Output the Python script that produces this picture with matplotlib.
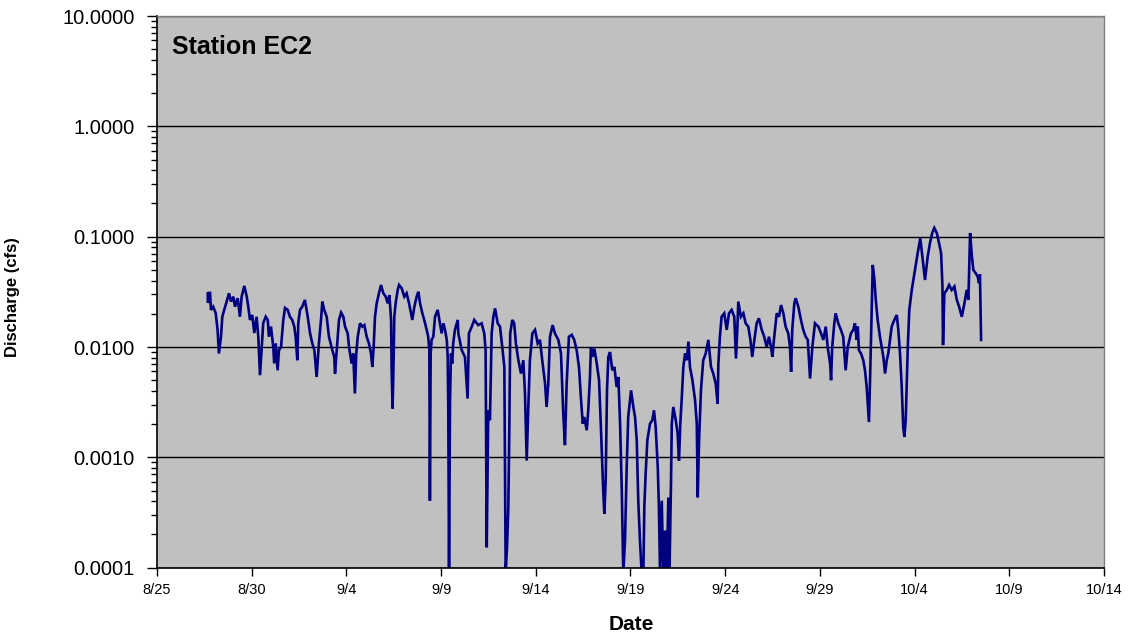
import matplotlib
matplotlib.use('Agg')
from matplotlib import pyplot as plt
from matplotlib.ticker import LogLocator, FormatStrFormatter, NullFormatter
import numpy as np

plt.rcParams['font.family'] = ['Liberation Sans', 'DejaVu Sans']

# time in days after 8/25 (00:00), discharge in cfs
days = [
	2.68, 2.69, 2.80, 2.85, 2.97, 3.10, 3.20, 3.27, 3.38, 3.45,
	3.55, 3.68, 3.80, 3.91, 4.03, 4.12, 4.26, 4.38, 4.47, 4.61,
	4.74, 4.82, 4.91, 5.03, 5.14, 5.26, 5.35, 5.44, 5.53, 5.61,
	5.74, 5.85, 5.91, 6.02, 6.14, 6.19, 6.27, 6.37, 6.44, 6.55,
	6.67, 6.76, 6.90, 7.02, 7.14, 7.25, 7.32, 7.41, 7.46, 7.55,
	7.67, 7.81, 7.96, 8.08, 8.20, 8.31, 8.43, 8.55, 8.66, 8.73,
	8.83, 8.96, 9.08, 9.26, 9.36, 9.40, 9.49, 9.61, 9.72, 9.84,
	9.93, 10.07, 10.14, 10.28, 10.36, 10.45, 10.52, 10.60, 10.72, 10.84,
	10.95, 11.07, 11.19, 11.30, 11.37, 11.44, 11.51, 11.60, 11.72, 11.83,
	11.95, 12.08, 12.18, 12.27, 12.36, 12.39, 12.44, 12.50, 12.53, 12.60,
	12.71, 12.78, 12.92, 13.06, 13.18, 13.31, 13.41, 13.48, 13.59, 13.71,
	13.80, 13.89, 14.01, 14.11, 14.24, 14.32, 14.38, 14.41, 14.45, 14.50,
	14.59, 14.68, 14.82, 14.94, 15.03, 15.12, 15.21, 15.30, 15.35, 15.38,
	15.42, 15.47, 15.52, 15.59, 15.64, 15.73, 15.88, 15.91, 16.09, 16.26,
	16.40, 16.47, 16.62, 16.75, 16.96, 17.14, 17.28, 17.35, 17.41, 17.49,
	17.58, 17.67, 17.76, 17.85, 17.99, 18.11, 18.23, 18.34, 18.41, 18.48,
	18.55, 18.60, 18.65, 18.76, 18.86, 18.95, 19.08, 19.22, 19.34, 19.43,
	19.52, 19.60, 19.69, 19.82, 19.96, 20.10, 20.22, 20.34, 20.49, 20.57,
	20.66, 20.75, 20.89, 21.01, 21.19, 21.33, 21.45, 21.54, 21.63, 21.75,
	21.90, 22.03, 22.16, 22.28, 22.39, 22.48, 22.56, 22.69, 22.77, 22.86,
	22.91, 22.99, 23.09, 23.22, 23.34, 23.45, 23.56, 23.62, 23.69, 23.76,
	23.83, 23.92, 24.04, 24.15, 24.27, 24.36, 24.45, 24.54, 24.62, 24.71,
	24.80, 24.88, 25.03, 25.15, 25.24, 25.33, 25.41, 25.50, 25.59, 25.68,
	25.73, 25.80, 25.89, 26.03, 26.15, 26.24, 26.33, 26.44, 26.50, 26.56,
	26.65, 26.73, 26.82, 26.91, 27.00, 27.06, 27.14, 27.18, 27.26, 27.39,
	27.49, 27.56, 27.63, 27.71, 27.79, 27.88, 27.97, 28.06, 28.14, 28.27,
	28.41, 28.50, 28.55, 28.62, 28.72, 28.84, 28.97, 29.11, 29.25, 29.37,
	29.50, 29.60, 29.64, 29.72, 29.81, 29.95, 30.08, 30.20, 30.34, 30.48,
	30.57, 30.66, 30.69, 30.83, 30.96, 31.08, 31.22, 31.33, 31.43, 31.54,
	31.66, 31.78, 31.93, 32.06, 32.19, 32.31, 32.42, 32.49, 32.59, 32.72,
	32.84, 32.95, 33.07, 33.19, 33.33, 33.42, 33.48, 33.54, 33.65, 33.72,
	33.86, 34.00, 34.12, 34.25, 34.36, 34.48, 34.60, 34.74, 34.92, 35.06,
	35.18, 35.31, 35.41, 35.54, 35.59, 35.65, 35.76, 35.83, 35.97, 36.11,
	36.23, 36.36, 36.47, 36.64, 36.76, 36.85, 36.94, 37.00, 37.06, 37.17,
	37.29, 37.38, 37.47, 37.59, 37.66, 37.74, 37.79, 37.88, 37.95, 38.05,
	38.17, 38.26, 38.35, 38.44, 38.53, 38.61, 38.70, 38.79, 38.93, 39.06,
	39.14, 39.23, 39.32, 39.40, 39.46, 39.53, 39.58, 39.64, 39.72, 39.85,
	40.02, 40.16, 40.30, 40.41, 40.55, 40.69, 40.81, 40.93, 41.04, 41.17,
	41.29, 41.40, 41.47, 41.50, 41.57, 41.70, 41.82, 41.96, 42.10, 42.23,
	42.35, 42.49, 42.63, 42.75, 42.84, 42.93, 43.01, 43.10, 43.23, 43.33,
	43.40, 43.45, 43.51,
]

discharge = [
	0.0307, 0.0251, 0.0317, 0.0217, 0.0232, 0.0203, 0.0143, 0.00873, 0.0124, 0.0188,
	0.0217, 0.0258, 0.0307, 0.0258, 0.0286, 0.0232, 0.0277, 0.0188, 0.0286, 0.0358,
	0.0286, 0.0232, 0.0176, 0.0195, 0.0134, 0.0188, 0.0124, 0.00555, 0.0100, 0.0165,
	0.0188, 0.0176, 0.0124, 0.0153, 0.0100, 0.00713, 0.0108, 0.00615, 0.00935, 0.0100,
	0.0176, 0.0226, 0.0217, 0.0188, 0.0176, 0.0153, 0.0124, 0.00759, 0.0164, 0.0217,
	0.0232, 0.0267, 0.0188, 0.0134, 0.0108, 0.00935, 0.00535, 0.0108, 0.0176, 0.0258,
	0.0217, 0.0188, 0.0124, 0.00935, 0.00813, 0.00575, 0.00935, 0.0176, 0.0205, 0.0188,
	0.0153, 0.0133, 0.0100, 0.00708, 0.00873, 0.00379, 0.00873, 0.0124, 0.0164, 0.0153,
	0.0158, 0.0124, 0.0108, 0.00873, 0.00659, 0.0100, 0.0188, 0.0249, 0.0307, 0.0365,
	0.0307, 0.0286, 0.0249, 0.0296, 0.0176, 0.00615, 0.00277, 0.00873, 0.0188, 0.0249,
	0.0329, 0.0365, 0.0341, 0.0286, 0.0307, 0.0249, 0.0202, 0.0176, 0.0232, 0.0286,
	0.0317, 0.0249, 0.0202, 0.0176, 0.0143, 0.0124, 0.00935, 0.000405, 0.00873, 0.0116,
	0.0124, 0.0188, 0.0217, 0.0164, 0.0133, 0.0164, 0.0143, 0.0116, 0.00813, 0.00267,
	0.00009, 0.00307, 0.00873, 0.00708, 0.0108, 0.0143, 0.0176, 0.0133, 0.00935, 0.00813,
	0.00341, 0.0133, 0.0153, 0.0176, 0.0158, 0.0164, 0.0133, 0.00935, 0.000153, 0.00267,
	0.00217, 0.0133, 0.0188, 0.0224, 0.0164, 0.0153, 0.0100, 0.00659, 0.00009, 0.000153,
	0.000353, 0.00164, 0.0133, 0.0176, 0.0164, 0.0108, 0.00759, 0.00575, 0.00759, 0.00379,
	0.000935, 0.00267, 0.00759, 0.0133, 0.0143, 0.0108, 0.0116, 0.00759, 0.00466, 0.00286,
	0.00466, 0.0124, 0.0158, 0.0133, 0.0116, 0.00873, 0.00249, 0.00129, 0.00466, 0.0124,
	0.0129, 0.0116, 0.00935, 0.00659, 0.00329, 0.00202, 0.00232, 0.00176, 0.00267, 0.00535,
	0.0100, 0.00813, 0.00968, 0.00708, 0.00500, 0.00164, 0.00050, 0.000307, 0.000615, 0.00405,
	0.00813, 0.00900, 0.00615, 0.00659, 0.00434, 0.00535, 0.00202, 0.00050, 0.00009, 0.000176,
	0.000813, 0.00232, 0.00405, 0.00286, 0.00232, 0.00143, 0.000405, 0.000176, 0.00009, 0.00009,
	0.000353, 0.000708, 0.00143, 0.00202, 0.00217, 0.00267, 0.00188, 0.000813, 0.000353, 0.00009,
	0.000405, 0.00009, 0.000217, 0.00009, 0.000432, 0.00009, 0.000615, 0.00202, 0.00286, 0.00217,
	0.00164, 0.000935, 0.00202, 0.00353, 0.00659, 0.00873, 0.00759, 0.0112, 0.00659, 0.00500,
	0.00329, 0.00202, 0.000434, 0.00143, 0.00405, 0.00759, 0.00873, 0.0116, 0.00659, 0.00575,
	0.00466, 0.00307, 0.00708, 0.0124, 0.0188, 0.0202, 0.0143, 0.0202, 0.0217, 0.0188,
	0.00786, 0.0176, 0.0258, 0.0188, 0.0202, 0.0164, 0.0153, 0.0116, 0.00813, 0.0116,
	0.0164, 0.0182, 0.0143, 0.0124, 0.0100, 0.0124, 0.0100, 0.00813, 0.0124, 0.0202,
	0.0188, 0.0240, 0.0202, 0.0153, 0.0133, 0.0100, 0.00595, 0.0143, 0.0249, 0.0277,
	0.0232, 0.0176, 0.0143, 0.0124, 0.0116, 0.00518, 0.0100, 0.0164, 0.0153, 0.0133,
	0.0116, 0.0153, 0.0100, 0.00708, 0.00500, 0.0100, 0.0164, 0.0202, 0.0164, 0.0143,
	0.0124, 0.00615, 0.0100, 0.0133, 0.0143, 0.0164, 0.0116, 0.0153, 0.00935, 0.00873,
	0.00759, 0.00615, 0.00434, 0.00209, 0.00615, 0.0249, 0.0555, 0.0405, 0.0267, 0.0176,
	0.0124, 0.0100, 0.00813, 0.00575, 0.00759, 0.00873, 0.0116, 0.0153, 0.0176, 0.0195,
	0.0143, 0.00873, 0.00434, 0.00188, 0.00153, 0.00217, 0.00434, 0.0100, 0.0217, 0.0329,
	0.0499, 0.0707, 0.0968, 0.0659, 0.0405, 0.0659, 0.0873, 0.108, 0.120, 0.108,
	0.0873, 0.0707, 0.0353, 0.0104, 0.0307, 0.0329, 0.0365, 0.0329, 0.0353, 0.0267,
	0.0232, 0.0188, 0.0249, 0.0329, 0.0267, 0.108, 0.0707, 0.0499, 0.0466, 0.0434,
	0.0379, 0.0455, 0.0116,
]

date_labels = ['8/25', '8/30', '9/4', '9/9', '9/14', '9/19', '9/24', '9/29', '10/4', '10/9', '10/14']
date_ticks = [5 * i for i in range(len(date_labels))]

fig = plt.figure(figsize=(11.35, 6.35), dpi=100)
ax = fig.add_axes([0.1383, 0.106, 0.8344, 0.8688])
ax.set_facecolor('#c0c0c0')

ax.plot(days, discharge, color='#000080', lw=1.9, solid_joinstyle='miter')

ax.set_yscale('log')
ax.set_ylim(1e-4, 10)
ax.set_xlim(date_ticks[0], date_ticks[-1])

ax.yaxis.set_major_locator(LogLocator(base=10, numticks=10))
ax.yaxis.set_minor_locator(LogLocator(base=10, subs=np.arange(2, 10), numticks=10))
ax.yaxis.set_major_formatter(FormatStrFormatter('%.4f'))
ax.yaxis.set_minor_formatter(NullFormatter())
ax.set_xticks(date_ticks)
ax.set_xticklabels(date_labels)

ax.grid(axis='y', which='major', color='black', lw=1)
ax.set_axisbelow(True)

for side in ['left', 'bottom']:
	ax.spines[side].set_color('black')
	ax.spines[side].set_linewidth(1.2)
for side in ['top', 'right']:
	ax.spines[side].set_color('#808080')
	ax.spines[side].set_linewidth(1)

ax.tick_params(axis='y', which='major', length=7, width=1, pad=9, labelsize=14.5)
ax.tick_params(axis='y', which='minor', length=4, width=1)
ax.tick_params(axis='x', which='major', length=6, width=1, pad=5, labelsize=10.5)

ax.text(0.016, 0.965, 'Station EC2', transform=ax.transAxes, fontsize=18,
		fontweight='bold', va='top', ha='left')

ax.set_ylabel('Discharge (cfs)', fontsize=12, fontweight='bold')
ax.yaxis.set_label_coords(-0.1447, 0.49)
ax.set_xlabel('Date', fontsize=15, fontweight='bold')
ax.xaxis.set_label_coords(0.5005, -0.086)

fig.savefig('out.png', dpi=100, facecolor='white')
